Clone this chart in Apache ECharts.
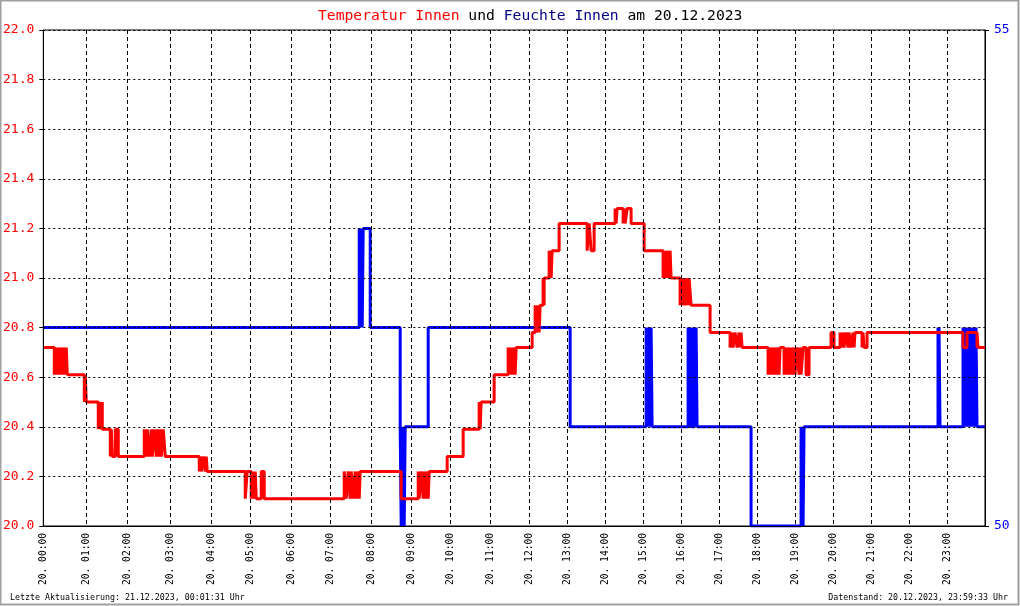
<!DOCTYPE html>
<html><head><meta charset="utf-8">
<script src="https://cdn.jsdelivr.net/npm/echarts@6/dist/echarts.min.js"></script>
<style>html,body{margin:0;padding:0;background:#fff}#c{width:1020px;height:606px}</style>
</head><body><div id="c"></div><script>
// ---- data ----
const day = '20';
const nextDayLabel = '21. 00:00';
// number of records logged per hour (x axis is record-indexed, like the original)
const recordsPerHour = [43,41,43,41,39,41,39,41,40,39,40,39,38,38,38,38,38,38,38,38,38,38,38,38];
const titleParts = ['Temperatur Innen', 'und', 'Feuchte Innen', 'am 20.12.2023'];
const footerLeft = 'Letzte Aktualisierung: 21.12.2023, 00:01:31 Uhr';
const footerRight = 'Datenstand: 20.12.2023, 23:59:33 Uhr';
const tempRange = [20, 22, 0.2];
const humRange = [50, 55, 5];

// Temperatur Innen (°C), [time, value] change points
const tempInnen = [
 ["00:00",20.72],
 ["00:15",20.61],["00:17",20.72],["00:19",20.61],["00:21",20.72],["00:23",20.61],["00:25",20.72],["00:27",20.61],["00:29",20.72],["00:31",20.61],["00:32",20.72],["00:33",20.61],
 ["00:57",20.5],["00:58",20.61],["01:00",20.5],
 ["01:17",20.39],["01:19",20.5],["01:21",20.39],["01:23",20.5],["01:24",20.39],
 ["01:35",20.28],["01:37",20.39],["01:38",20.28],["01:43",20.39],["01:47",20.28],
 ["02:24",20.39],["02:26",20.28],["02:28",20.39],["02:31",20.28],["02:33",20.39],["02:35",20.28],["02:37",20.39],["02:40",20.28],["02:42",20.39],["02:45",20.28],["02:46",20.39],["02:47",20.28],
 ["02:50",20.39],["02:53",20.28],
 ["03:42",20.22],["03:44",20.28],["03:46",20.22],["03:49",20.28],["03:51",20.22],["03:53",20.28],["03:54",20.22],
 ["04:52",20.11],["04:56",20.22],["05:02",20.11],["05:04",20.22],["05:06",20.11],["05:08",20.22],["05:09",20.11],["05:16",20.22],["05:20",20.11],
 ["07:21",20.22],["07:23",20.11],["07:27",20.22],["07:29",20.11],["07:31",20.22],["07:33",20.11],["07:36",20.22],["07:38",20.11],["07:40",20.22],["07:42",20.11],["07:44",20.22],
 ["08:45",20.11],
 ["09:11",20.22],["09:13",20.11],["09:15",20.22],["09:18",20.11],["09:20",20.22],["09:22",20.11],["09:24",20.22],["09:26",20.11],["09:27",20.22],
 ["09:56",20.28],["10:20",20.39],
 ["10:43",20.5],["10:45",20.39],["10:47",20.5],
 ["11:06",20.61],
 ["11:28",20.72],["11:30",20.61],["11:32",20.72],["11:34",20.61],["11:36",20.72],["11:38",20.61],["11:40",20.72],
 ["12:04",20.78],["12:10",20.89],["12:12",20.78],["12:14",20.89],["12:16",20.78],["12:17",20.89],
 ["12:22",21.0],["12:23",20.89],["12:24",21.0],
 ["12:32",21.11],["12:34",21.0],["12:36",21.11],
 ["12:48",21.22],
 ["13:31",21.11],["13:35",21.22],["13:38",21.11],["13:42",21.22],
 ["14:15",21.28],["14:17",21.22],["14:19",21.28],["14:28",21.22],["14:30",21.28],["14:32",21.22],["14:35",21.28],["14:41",21.22],
 ["15:02",21.11],
 ["15:31",21.0],["15:33",21.11],["15:35",21.0],["15:38",21.11],["15:40",21.0],["15:42",21.11],["15:44",21.0],
 ["15:58",20.89],["16:00",21.0],["16:02",20.89],["16:05",21.0],["16:07",20.89],["16:09",21.0],["16:11",20.89],["16:13",21.0],["16:15",20.89],
 ["16:46",20.78],
 ["17:18",20.72],["17:20",20.78],["17:22",20.72],["17:25",20.78],["17:28",20.72],["17:31",20.78],["17:33",20.72],["17:35",20.78],["17:37",20.72],
 ["18:17",20.61],["18:19",20.72],["18:21",20.61],["18:24",20.72],["18:26",20.61],["18:28",20.72],["18:30",20.61],["18:33",20.72],["18:35",20.61],["18:36",20.72],
 ["18:43",20.61],["18:45",20.72],["18:47",20.61],["18:50",20.72],["18:52",20.61],["18:54",20.72],["18:56",20.61],["18:58",20.72],["19:00",20.61],["19:03",20.72],["19:06",20.61],["19:08",20.72],["19:10",20.61],["19:12",20.72],["19:18",20.61],["19:22",20.72],
 ["19:57",20.78],["20:01",20.72],
 ["20:11",20.78],["20:13",20.72],["20:16",20.78],["20:18",20.72],["20:21",20.78],["20:23",20.72],["20:26",20.78],["20:28",20.72],["20:31",20.78],["20:33",20.72],["20:35",20.78],
 ["20:45",20.72],["20:47",20.78],["20:49",20.72],["20:53",20.78],
 ["23:25",20.72],["23:31",20.78],["23:47",20.72],["23:48",20.78],["23:49",20.72],["24:00",20.72]
];

// Feuchte Innen (%), [time, value] change points
const feuchteInnen = [
 ["00:00",52],
 ["07:43",53],["07:44",52],["07:46",53],["07:47",52],["07:48",53],
 ["07:59",52],
 ["08:43",51],["08:45",50],["08:47",51],["08:49",50],["08:51",51],
 ["09:26",52],
 ["13:04",51],
 ["15:05",52],["15:07",51],["15:09",52],["15:11",51],["15:13",52],["15:14",51],
 ["16:11",52],["16:13",51],["16:15",52],["16:16",51],
 ["16:20",52],["16:22",51],["16:24",52],["16:25",51],
 ["17:51",50],
 ["19:10",51],["19:12",50],["19:14",51],
 ["22:45",52],["22:47",51],["22:48",52],["22:49",51],
 ["23:25",52],["23:27",51],["23:29",52],["23:31",51],["23:33",52],["23:35",51],["23:37",52],["23:39",51],["23:41",52],["23:43",51],["23:45",52],["23:47",51],
 ["24:00",51]
];

// ---- build ----
const pad = n => String(n).padStart(2,'0');
const hourStart = []; let total = 0;
recordsPerHour.forEach(c => { hourStart.push(total); total += c; });
const categories = [];
recordsPerHour.forEach((c,h) => { for (let k=0;k<c;k++) categories.push(day + '. ' + pad(h) + ':' + pad(Math.floor(k*60/c))); });
categories.push(nextDayLabel);
const hourSet = new Set(hourStart);
function toIndex(t){ const [h,m] = t.split(':').map(Number); if (h >= 24) return total; return hourStart[h] + Math.round(m*recordsPerHour[h]/60); }
const isHour = (i) => hourSet.has(i) && i < total;

const mono = 'DejaVu Sans Mono';
const chart = echarts.init(document.getElementById('c'), null, {renderer:'canvas'});
chart.setOption({
  animation: false,
  backgroundColor: '#fff',
  title: {
    text: '{r|' + titleParts[0] + '} ' + titleParts[1] + ' {b|' + titleParts[2] + '} ' + titleParts[3],
    left: 313, top: 4,
    textStyle: { fontFamily: mono, fontSize: 14.7, fontWeight: 'normal', color: '#000',
      rich: { r: { color: '#ff0000', fontFamily: mono, fontSize: 14.7 }, b: { color: '#000080', fontFamily: mono, fontSize: 14.7 } } }
  },
  grid: { left: 43, right: 35, top: 30, bottom: 80, show: true, borderColor: '#000', borderWidth: 1, backgroundColor: '#fff' },
  xAxis: {
    type: 'category', data: categories, boundaryGap: false, z: 3,
    axisLine: { show: true, lineStyle: { color: '#000', width: 1 } },
    axisTick: { show: false },
    axisLabel: { interval: (i) => isHour(i), rotate: 90, fontFamily: mono, fontSize: 9.6, color: '#000', margin: 7 },
    splitLine: { show: true, interval: (i) => isHour(i) && i > 0, lineStyle: { color: '#000', width: 1, type: [4,3] } }
  },
  yAxis: [
    { type: 'value', min: tempRange[0], max: tempRange[1], interval: tempRange[2], position: 'left', z: 3,
      axisLine: { show: true, lineStyle: { color: '#000' } },
      axisTick: { show: true, length: 4, lineStyle: { color: '#000' } },
      axisLabel: { color: '#ff0000', fontFamily: mono, fontSize: 13, margin: 9, formatter: v => v.toFixed(1) },
      splitLine: { show: true, lineStyle: { color: '#000', width: 1, type: [2,3] } } },
    { type: 'value', min: humRange[0], max: humRange[1], interval: humRange[2], position: 'right', z: 3,
      axisLine: { show: true, lineStyle: { color: '#000' } },
      axisTick: { show: true, length: 4, lineStyle: { color: '#000' } },
      axisLabel: { color: '#0000ff', fontFamily: mono, fontSize: 13, margin: 9 },
      splitLine: { show: false } }
  ],
  series: [
    { type: 'line', name: titleParts[2], yAxisIndex: 1, step: 'end', showSymbol: false, z: 1,
      data: feuchteInnen.map(([t,v]) => [toIndex(t), v]),
      lineStyle: { color: '#0000ff', width: 3, cap: 'butt', join: 'bevel' } },
    { type: 'line', name: titleParts[0], yAxisIndex: 0, step: 'end', showSymbol: false, z: 2,
      data: tempInnen.map(([t,v]) => [toIndex(t), v]),
      lineStyle: { color: '#ff0000', width: 3, cap: 'butt', join: 'bevel' } }
  ],
  graphic: [
    { type: 'rect', shape: { x: 0.5, y: 0.5, width: 1018, height: 604 }, style: { fill: null, stroke: '#a0a0a0', lineWidth: 2 }, silent: true },
    { type: 'text', left: 10, top: 594, style: { text: footerLeft, font: '8.3px "DejaVu Sans Mono"', fill: '#000' } },
    { type: 'text', right: 12, top: 594, style: { text: footerRight, font: '8.3px "DejaVu Sans Mono"', fill: '#000' } }
  ]
});
</script></body></html>
